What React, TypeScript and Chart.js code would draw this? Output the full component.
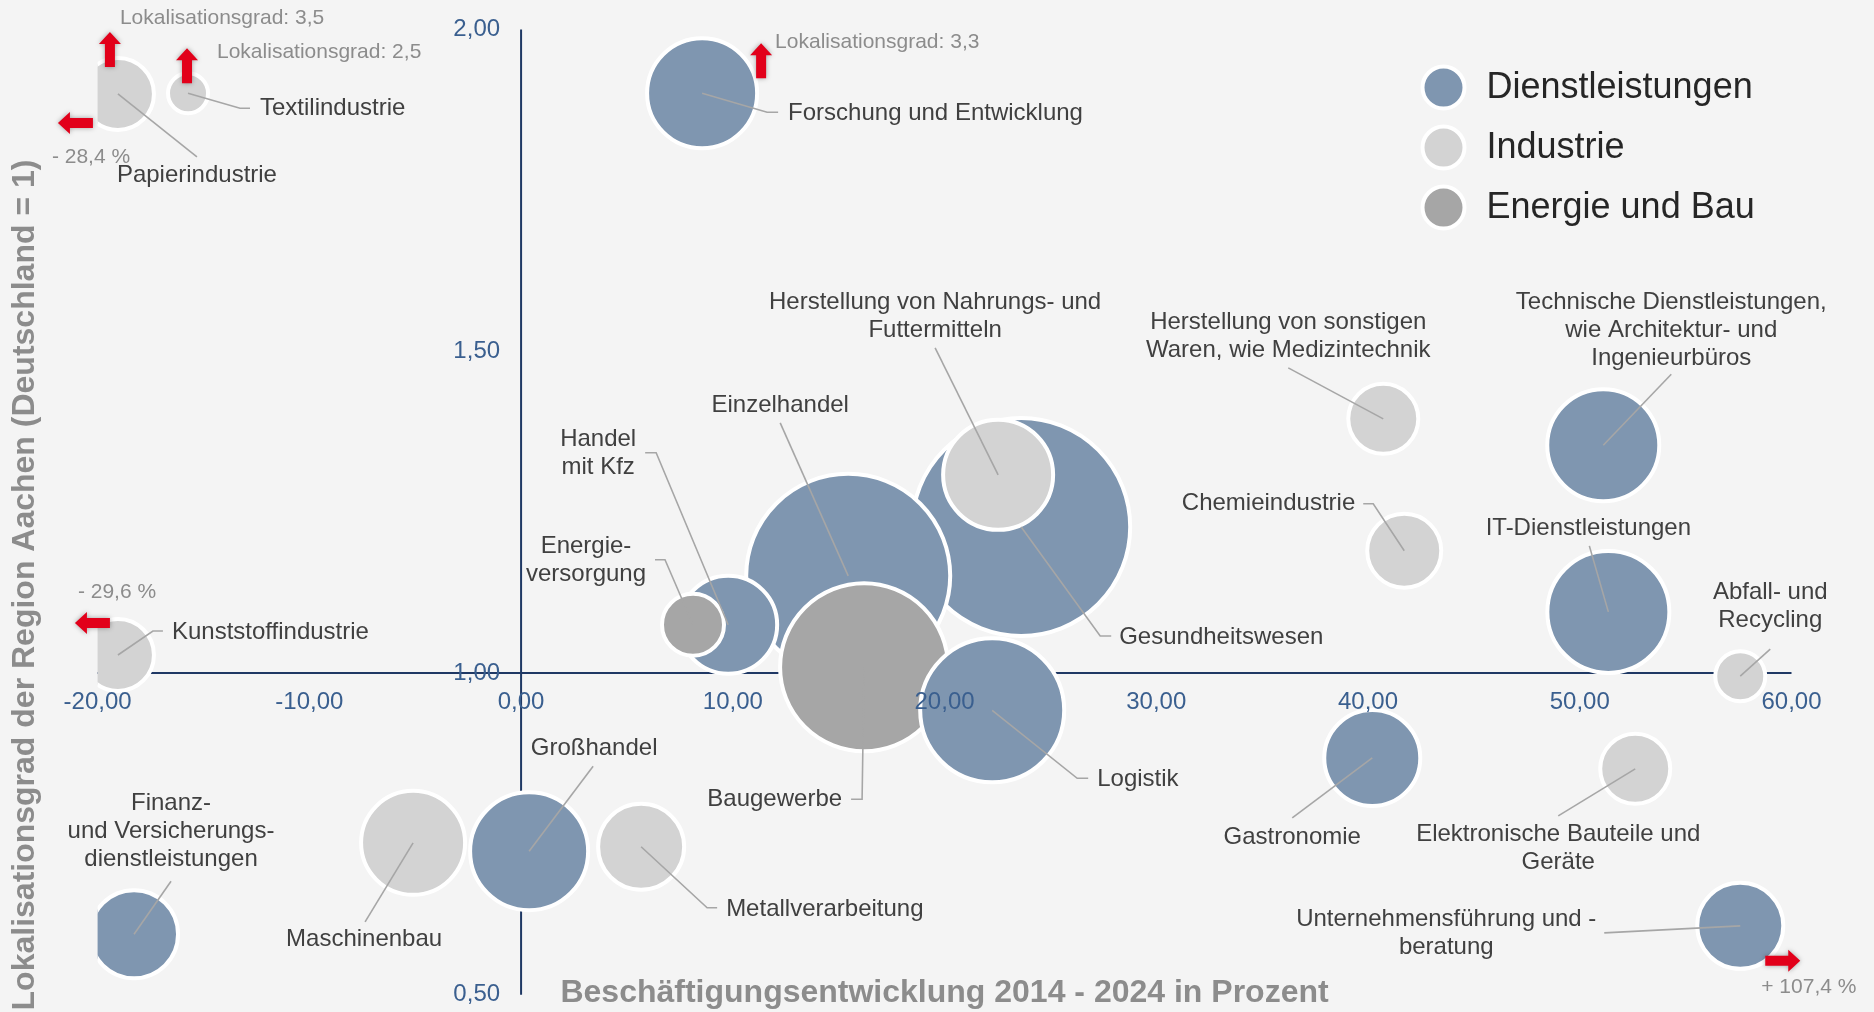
import React, { useEffect, useRef } from "react";
import { Chart, registerables } from "chart.js";

Chart.register(...registerables);

const W = 1874;
const H = 1012;

// ---------- data ----------
const categories = ["Dienstleistungen", "Industrie", "Energie und Bau"];
const categoryColors = ["#7f96b0", "#d3d3d3", "#a6a6a6"];

const dienstNames = [
  "Forschung und Entwicklung",
  "Einzelhandel",
  "Gesundheitswesen",
  "Handel mit Kfz",
  "Logistik",
  "Großhandel",
  "Finanz- und Versicherungsdienstleistungen",
  "Technische Dienstleistungen",
  "IT-Dienstleistungen",
  "Gastronomie",
  "Unternehmensführung und -beratung",
];
const dienstX = [8.55, 15.45, 23.62, 9.78, 22.25, 0.38, -18.28, 51.11, 51.35, 40.2, 57.58];
const dienstY = [1.901, 1.151, 1.227, 1.075, 0.942, 0.723, 0.594, 1.354, 1.095, 0.868, 0.607];
const dienstR = [55, 102, 109, 49, 72, 59, 44, 56, 61, 48, 43];

const industrieNames = [
  "Papierindustrie",
  "Textilindustrie",
  "Kunststoffindustrie",
  "Herstellung von Nahrungs- und Futtermitteln",
  "Herstellung von sonstigen Waren",
  "Chemieindustrie",
  "Abfall- und Recycling",
  "Elektronische Bauteile und Geräte",
  "Maschinenbau",
  "Metallverarbeitung",
];
const industrieX = [-19.04, -15.73, -19.04, 22.53, 40.72, 41.71, 57.58, 52.62, -5.1, 5.67];
const industrieY = [1.9, 1.901, 1.028, 1.308, 1.395, 1.19, 0.995, 0.851, 0.736, 0.73];
const industrieR = [36, 20, 36, 55, 35, 37, 25, 35, 52, 43];

const energieNames = ["Energieversorgung", "Baugewerbe"];
const energieX = [8.12, 16.2];
const energieY = [1.075, 1.009];
const energieR = [31, 84];

const xTicks = [-20, -10, 0, 10, 20, 30, 40, 50, 60];
const yTicks = [0.5, 1.0, 1.5, 2.0];

const xTitle = "Beschäftigungsentwicklung 2014 - 2024 in Prozent";
const yTitle = "Lokalisationsgrad der Region Aachen (Deutschland = 1)";

// values outside the visible range (shown as notes with arrows)
const offScaleNames = ["Papierindustrie", "Papierindustrie", "Textilindustrie", "Forschung und Entwicklung", "Kunststoffindustrie", "Unternehmensführung und -beratung"];
const offScaleTexts = ["Lokalisationsgrad: 3,5", "- 28,4 %", "Lokalisationsgrad: 2,5", "Lokalisationsgrad: 3,3", "- 29,6 %", "+ 107,4 %"];

// ---------- layout (pixel offsets relative to bubble centres) ----------
type LabelCfg = {
  lines: string[];
  align: "left" | "center" | "right";
  dx: number;
  dy: number;
  leader: number[][];
};

const labelLayout: Record<string, LabelCfg> = {
  "Papierindustrie": { lines: ["Papierindustrie"], align: "center", dx: 79, dy: 81, leader: [[79, 63]] },
  "Textilindustrie": { lines: ["Textilindustrie"], align: "left", dx: 72, dy: 15, leader: [[52, 15], [62, 15]] },
  "Forschung und Entwicklung": { lines: ["Forschung und Entwicklung"], align: "left", dx: 86, dy: 20, leader: [[65, 19], [76, 19]] },
  "Kunststoffindustrie": { lines: ["Kunststoffindustrie"], align: "left", dx: 54, dy: -23, leader: [[35, -24], [45, -24]] },
  "Handel mit Kfz": { lines: ["Handel", "mit Kfz"], align: "center", dx: -130, dy: -185, leader: [[-72, -172], [-83, -172]] },
  "Energieversorgung": { lines: ["Energie-", "versorgung"], align: "center", dx: -107, dy: -78, leader: [[-28, -65], [-38, -65]] },
  "Einzelhandel": { lines: ["Einzelhandel"], align: "center", dx: -68, dy: -170, leader: [[-68, -153]] },
  "Herstellung von Nahrungs- und Futtermitteln": { lines: ["Herstellung von Nahrungs- und", "Futtermitteln"], align: "center", dx: -63, dy: -172, leader: [[-63, -127]] },
  "Gesundheitswesen": { lines: ["Gesundheitswesen"], align: "left", dx: 98, dy: 110, leader: [[79, 109], [90, 109]] },
  "Herstellung von sonstigen Waren": { lines: ["Herstellung von sonstigen", "Waren, wie Medizintechnik"], align: "center", dx: -95, dy: -96, leader: [[-95, -51]] },
  "Chemieindustrie": { lines: ["Chemieindustrie"], align: "right", dx: -49, dy: -47, leader: [[-31, -47], [-41, -47]] },
  "Technische Dienstleistungen": { lines: ["Technische Dienstleistungen,", "wie Architektur- und", "Ingenieurbüros"], align: "center", dx: 68, dy: -143, leader: [[68, -71]] },
  "IT-Dienstleistungen": { lines: ["IT-Dienstleistungen"], align: "center", dx: -20, dy: -84, leader: [[-19, -66]] },
  "Abfall- und Recycling": { lines: ["Abfall- und", "Recycling"], align: "center", dx: 30, dy: -84, leader: [[30, -27]] },
  "Logistik": { lines: ["Logistik"], align: "left", dx: 105, dy: 69, leader: [[85, 68], [96, 68]] },
  "Baugewerbe": { lines: ["Baugewerbe"], align: "right", dx: -22, dy: 132, leader: [[-2, 132], [-13, 132]] },
  "Großhandel": { lines: ["Großhandel"], align: "center", dx: 65, dy: -103, leader: [[64, -85]] },
  "Maschinenbau": { lines: ["Maschinenbau"], align: "center", dx: -49, dy: 97, leader: [[-48, 79]] },
  "Metallverarbeitung": { lines: ["Metallverarbeitung"], align: "left", dx: 85, dy: 63, leader: [[66, 61], [76, 61]] },
  "Finanz- und Versicherungsdienstleistungen": { lines: ["Finanz-", "und Versicherungs-", "dienstleistungen"], align: "center", dx: 37, dy: -131, leader: [[37, -53]] },
  "Gastronomie": { lines: ["Gastronomie"], align: "center", dx: -80, dy: 79, leader: [[-80, 60]] },
  "Elektronische Bauteile und Geräte": { lines: ["Elektronische Bauteile und", "Geräte"], align: "center", dx: -77, dy: 66, leader: [[-77, 47]] },
  "Unternehmensführung und -beratung": { lines: ["Unternehmensführung und -", "beratung"], align: "center", dx: -294, dy: -6, leader: [[-136, 7]] },
};

// note text offsets (left aligned) and arrows (tip offset + direction), same order as offScale arrays
const noteOffsets = [[2, -76], [-66, 63], [29, -41], [73, -51], [-40, -63], [21, 61]];
const arrowDirs = ["up", "left", "up", "up", "left", "right"];
const arrowTips = [[-8, -62], [-60, 29], [-1, -45], [59, -50], [-43, -32], [60, 35]];

const FONT = "'Liberation Sans', Arial, Helvetica, sans-serif";

type Pt = { x: number; y: number; r: number; name: string; cat: number };

function buildPoints(): Pt[] {
  const pts: Pt[] = [];
  dienstNames.forEach((n, i) => pts.push({ x: dienstX[i], y: dienstY[i], r: dienstR[i], name: n, cat: 0 }));
  industrieNames.forEach((n, i) => pts.push({ x: industrieX[i], y: industrieY[i], r: industrieR[i], name: n, cat: 1 }));
  energieNames.forEach((n, i) => pts.push({ x: energieX[i], y: energieY[i], r: energieR[i], name: n, cat: 2 }));
  // larger bubbles behind smaller ones
  pts.sort((a, b) => b.r - a.r);
  return pts;
}

function fmt(v: number) {
  return v.toFixed(2).replace(".", ",");
}

function drawArrow(ctx: CanvasRenderingContext2D, x: number, y: number, dir: string) {
  const ang = dir === "up" ? -Math.PI / 2 : dir === "left" ? Math.PI : dir === "down" ? Math.PI / 2 : 0;
  ctx.save();
  ctx.translate(x, y);
  ctx.rotate(ang);
  ctx.beginPath();
  ctx.moveTo(0, 0);
  ctx.lineTo(-12, -11);
  ctx.lineTo(-12, -5);
  ctx.lineTo(-35, -5);
  ctx.lineTo(-35, 5);
  ctx.lineTo(-12, 5);
  ctx.lineTo(-12, 11);
  ctx.closePath();
  ctx.shadowColor = "rgba(0,0,0,0.35)";
  ctx.shadowBlur = 5;
  ctx.fillStyle = "#e2001a";
  ctx.fill();
  ctx.restore();
}

export default function App() {
  const ref = useRef<HTMLCanvasElement | null>(null);

  useEffect(() => {
    document.body.style.margin = "0";
    document.body.style.background = "#f4f4f4";
    const canvas = ref.current;
    if (!canvas) return;
    const points = buildPoints();

    const plugin = {
      id: "custom-annotations",
      beforeDraw(chart: any) {
        const ctx = chart.ctx;
        ctx.save();
        ctx.fillStyle = "#f4f4f4";
        ctx.fillRect(0, 0, chart.width, chart.height);
        ctx.restore();
      },
      beforeDatasetsDraw(chart: any) {
        const ctx = chart.ctx;
        const xs = chart.scales.x;
        const ys = chart.scales.y;
        const a = chart.chartArea;
        const x0 = xs.getPixelForValue(0);
        const y1 = ys.getPixelForValue(1);
        ctx.save();
        ctx.strokeStyle = "#1f3864";
        ctx.lineWidth = 2;
        ctx.beginPath();
        ctx.moveTo(a.left, y1);
        ctx.lineTo(a.right, y1);
        ctx.moveTo(x0, a.top);
        ctx.lineTo(x0, a.bottom);
        ctx.stroke();
        ctx.restore();
      },
      afterDatasetsDraw(chart: any) {
        const ctx: CanvasRenderingContext2D = chart.ctx;
        const xs = chart.scales.x;
        const ys = chart.scales.y;
        const a = chart.chartArea;
        const centers: Record<string, { x: number; y: number }> = {};
        points.forEach((p) => {
          centers[p.name] = { x: xs.getPixelForValue(p.x), y: ys.getPixelForValue(p.y) };
        });

        ctx.save();
        // leader lines
        ctx.strokeStyle = "#a6a6a6";
        ctx.lineWidth = 1.6;
        Object.keys(labelLayout).forEach((name) => {
          const c = centers[name];
          const cfg = labelLayout[name];
          if (!c) return;
          ctx.beginPath();
          ctx.moveTo(c.x, c.y);
          cfg.leader.forEach(([dx, dy]) => ctx.lineTo(c.x + dx, c.y + dy));
          ctx.stroke();
        });

        // labels
        ctx.font = `24px ${FONT}`;
        ctx.fillStyle = "#404040";
        ctx.textBaseline = "middle";
        Object.keys(labelLayout).forEach((name) => {
          const c = centers[name];
          const cfg = labelLayout[name];
          if (!c) return;
          ctx.textAlign = cfg.align;
          cfg.lines.forEach((ln, i) => ctx.fillText(ln, c.x + cfg.dx, c.y + cfg.dy + i * 28));
        });

        // tick labels
        const x0 = xs.getPixelForValue(0);
        const y1 = ys.getPixelForValue(1);
        ctx.font = `24px ${FONT}`;
        ctx.fillStyle = "#3a5f8f";
        ctx.textAlign = "center";
        xTicks.forEach((v) => ctx.fillText(fmt(v), xs.getPixelForValue(v), y1 + 29));
        ctx.textAlign = "right";
        yTicks.forEach((v) => ctx.fillText(fmt(v), x0 - 21, ys.getPixelForValue(v)));

        // arrows and notes for off-scale values
        offScaleNames.forEach((name, i) => {
          const c = centers[name];
          if (!c) return;
          drawArrow(ctx, c.x + arrowTips[i][0], c.y + arrowTips[i][1], arrowDirs[i]);
        });
        ctx.font = `21px ${FONT}`;
        ctx.fillStyle = "#8c8c8c";
        ctx.textAlign = "left";
        offScaleNames.forEach((name, i) => {
          const c = centers[name];
          if (!c) return;
          ctx.fillText(offScaleTexts[i], c.x + noteOffsets[i][0], c.y + noteOffsets[i][1]);
        });

        // legend
        categories.forEach((cat, i) => {
          const lx = a.right - 348;
          const ly = a.top + 58 + i * 60;
          ctx.beginPath();
          ctx.arc(lx, ly, 21, 0, Math.PI * 2);
          ctx.fillStyle = categoryColors[i];
          ctx.fill();
          ctx.lineWidth = 4;
          ctx.strokeStyle = "#ffffff";
          ctx.stroke();
          ctx.font = `36px ${FONT}`;
          ctx.fillStyle = "#262626";
          ctx.textAlign = "left";
          ctx.textBaseline = "middle";
          ctx.fillText(cat, lx + 43, ly);
        });

        // axis titles
        ctx.font = `bold 32px ${FONT}`;
        ctx.fillStyle = "#8c8c8c";
        ctx.textAlign = "center";
        ctx.textBaseline = "middle";
        ctx.fillText(xTitle, (a.left + a.right) / 2, a.bottom - 2);
        ctx.save();
        ctx.translate(25, 585);
        ctx.rotate(-Math.PI / 2);
        ctx.fillText(yTitle, 0, 0);
        ctx.restore();

        ctx.restore();
      },
    };

    const chart = new Chart(canvas, {
      type: "bubble",
      data: {
        datasets: [
          {
            label: "Branchen",
            data: points as any,
            backgroundColor: points.map((p) => categoryColors[p.cat]),
            borderColor: "#ffffff",
            borderWidth: 4,
            hoverBorderWidth: 4,
            clip: { left: 0, top: false, right: false, bottom: false } as any,
          },
        ],
      },
      options: {
        responsive: false,
        animation: false,
        devicePixelRatio: 1,
        events: [],
        layout: { autoPadding: false, padding: { left: 97.6, right: 82.5, top: 29.6, bottom: 17.3 } },
        scales: {
          x: { type: "linear", min: -20, max: 60, display: false },
          y: { type: "linear", min: 0.5, max: 2, display: false },
        },
        plugins: {
          legend: { display: false },
          tooltip: { enabled: false },
        },
      },
      plugins: [plugin as any],
    });

    return () => chart.destroy();
  }, []);

  return (
    <div style={{ width: W, height: H, background: "#f4f4f4" }}>
      <canvas ref={ref} width={W} height={H} style={{ display: "block" }} />
    </div>
  );
}
